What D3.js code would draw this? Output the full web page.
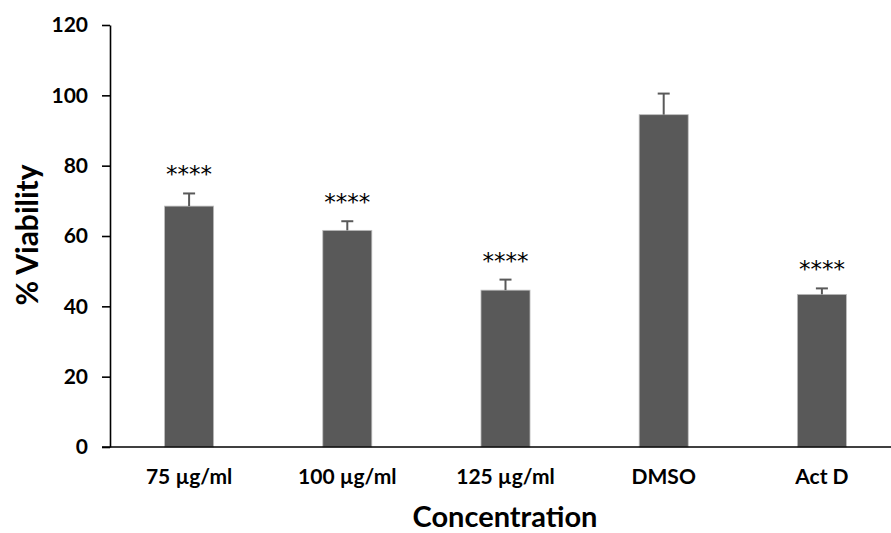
<!DOCTYPE html>
<html>
<head>
<meta charset="utf-8">
<script src="https://cdn.jsdelivr.net/npm/d3@7"></script>
<style>
  html, body { margin: 0; padding: 0; background: #fff; }
  svg { display: block; font-family: Lato, "Open Sans", sans-serif; }
</style>
</head>
<body>
<svg id="chart" width="891" height="533"></svg>
<script>
// Cell viability per treatment (mean and upper error bar)
const categories = ["75 µg/ml", "100 µg/ml", "125 µg/ml", "DMSO", "Act D"];
const viability = [68.5, 61.6, 44.6, 94.5, 43.4];
const errorUpper = [3.6, 2.6, 3.0, 6.0, 1.7];
const significance = ["****", "****", "****", "", "****"];
const yTicks = [0, 20, 40, 60, 80, 100, 120];

const svg = d3.select("#chart");
const margin = { left: 110, top: 25, bottom: 86 };
const plotBottom = 533 - margin.bottom;

const x = d3.scaleBand()
  .domain(categories)
  .range([margin.left, 901])
  .paddingInner(0.69)
  .paddingOuter(0.345);

const y = d3.scaleLinear()
  .domain([0, 120])
  .range([plotBottom, margin.top]);

const barColor = "#595959";

// bars
svg.append("g").selectAll("rect")
  .data(categories)
  .join("rect")
  .attr("x", d => x(d))
  .attr("y", (d, i) => y(viability[i]))
  .attr("width", x.bandwidth())
  .attr("height", (d, i) => y(0) - y(viability[i]))
  .attr("fill", barColor)
  .attr("stroke", "#bdbdbd")
  .attr("stroke-width", 0.8);

// error bars (upper only)
const eb = svg.append("g").attr("stroke", barColor).attr("stroke-width", 2);
categories.forEach((c, i) => {
  const cx = x(c) + x.bandwidth() / 2;
  const top = y(viability[i] + errorUpper[i]);
  eb.append("line").attr("x1", cx).attr("x2", cx)
    .attr("y1", y(viability[i])).attr("y2", top);
  eb.append("line").attr("x1", cx - 6).attr("x2", cx + 6)
    .attr("y1", top).attr("y2", top);
});

// significance markers
svg.append("g").selectAll("text")
  .data(categories)
  .join("text")
  .attr("x", d => x(d) + x.bandwidth() / 2)
  .attr("y", (d, i) => y(viability[i] + errorUpper[i]) - 11)
  .attr("text-anchor", "middle")
  .attr("font-family", "'DejaVu Sans', sans-serif")
  .attr("font-size", 23)
  .attr("fill", "#000")
  .text((d, i) => significance[i]);

// y axis
const yAxis = svg.append("g")
  .attr("transform", `translate(${margin.left},0)`)
  .call(d3.axisLeft(y).tickValues(yTicks).tickSize(8).tickPadding(14).tickSizeOuter(0));
yAxis.select(".domain").attr("stroke", "#000").attr("stroke-width", 1.6);
yAxis.selectAll(".tick line").attr("stroke", "#000").attr("stroke-width", 1.6);
yAxis.selectAll(".tick text")
  .attr("font-size", 21).attr("font-weight", "bold").attr("fill", "#000")
  .attr("font-family", "Lato, sans-serif");

// x axis
const xAxis = svg.append("g")
  .attr("transform", `translate(0,${plotBottom})`)
  .call(d3.axisBottom(x).tickSize(0).tickPadding(22).tickSizeOuter(0));
xAxis.select(".domain").attr("stroke", "#000").attr("stroke-width", 1.6)
  .attr("d", `M${margin.left - 8},0H901`);
xAxis.selectAll(".tick text")
  .attr("font-size", 21).attr("font-weight", "bold").attr("fill", "#000")
  .attr("font-family", "Lato, sans-serif");

// axis titles
svg.append("text")
  .attr("x", 505).attr("y", 527)
  .attr("text-anchor", "middle")
  .attr("font-size", 29).attr("font-weight", "bold")
  .text("Concentration");

svg.append("text")
  .attr("transform", "translate(38,235) rotate(-90)")
  .attr("text-anchor", "middle")
  .attr("font-size", 30).attr("font-weight", "bold")
  .text("% Viability");
</script>
</body>
</html>
